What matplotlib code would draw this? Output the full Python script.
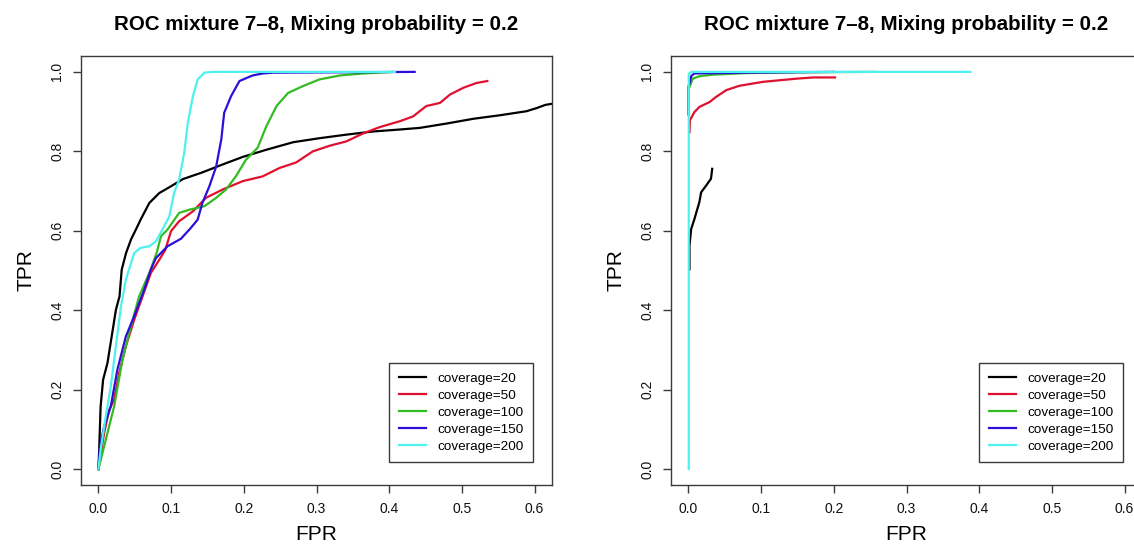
import matplotlib
matplotlib.use("Agg")
import matplotlib.pyplot as plt

plt.rcParams['font.family'] = ['Liberation Sans', 'DejaVu Sans']

title = "ROC mixture 7\u20138, Mixing probability = 0.2"
labels = ["coverage=20", "coverage=50", "coverage=100", "coverage=150", "coverage=200"]
colors = ["#000000", "#E0102F", "#33BB22", "#2A10D8", "#4EF0F0"]

x_ticks = [0.0, 0.1, 0.2, 0.3, 0.4, 0.5, 0.6]
x_ticklabels = ["0.0", "0.1", "0.2", "0.3", "0.4", "0.5", "0.6"]
y_ticks = [0.0, 0.2, 0.4, 0.6, 0.8, 1.0]
y_ticklabels = ["0.0", "0.2", "0.4", "0.6", "0.8", "1.0"]

# ---- left panel: FPR / TPR per coverage ----
fpr_l_20 = [0.0, 0.001, 0.003, 0.0064, 0.0124, 0.019, 0.024, 0.029, 0.032, 0.038, 0.045,
            0.0515, 0.058, 0.070, 0.0837, 0.0998, 0.116, 0.143, 0.171, 0.1986, 0.231,
            0.268, 0.304, 0.341, 0.378, 0.415, 0.442, 0.479, 0.516, 0.553, 0.589,
            0.603, 0.615, 0.625, 0.64]
tpr_l_20 = [0.0, 0.049, 0.158, 0.225, 0.267, 0.343, 0.401, 0.435, 0.502, 0.544, 0.579,
            0.603, 0.628, 0.670, 0.695, 0.712, 0.730, 0.747, 0.767, 0.786, 0.804,
            0.823, 0.833, 0.842, 0.850, 0.855, 0.859, 0.870, 0.882, 0.891, 0.901,
            0.909, 0.917, 0.920, 0.925]

fpr_l_50 = [0.0, 0.0078, 0.0147, 0.0216, 0.0285, 0.0377, 0.0492, 0.0607, 0.0722, 0.0837,
            0.092, 0.0998, 0.111, 0.130, 0.148, 0.171, 0.1986, 0.226, 0.249, 0.272,
            0.295, 0.318, 0.341, 0.364, 0.387, 0.415, 0.433, 0.451, 0.470, 0.4837,
            0.502, 0.520, 0.535]
tpr_l_50 = [0.0, 0.091, 0.149, 0.175, 0.242, 0.309, 0.376, 0.435, 0.494, 0.527,
            0.552, 0.599, 0.624, 0.649, 0.683, 0.704, 0.725, 0.737, 0.758, 0.772,
            0.800, 0.814, 0.825, 0.845, 0.861, 0.876, 0.888, 0.914, 0.922, 0.943,
            0.960, 0.972, 0.977]

fpr_l_100 = [0.0, 0.0101, 0.0216, 0.033, 0.0446, 0.056, 0.070, 0.080, 0.086, 0.095, 0.111,
             0.125, 0.146, 0.162, 0.1756, 0.189, 0.203, 0.219, 0.231, 0.245, 0.261,
             0.281, 0.304, 0.332, 0.364, 0.4055]
tpr_l_100 = [0.0, 0.074, 0.158, 0.275, 0.359, 0.435, 0.494, 0.544, 0.586, 0.603, 0.645,
             0.653, 0.662, 0.683, 0.704, 0.737, 0.779, 0.809, 0.863, 0.914, 0.947,
             0.964, 0.981, 0.991, 0.996, 1.0]

fpr_l_150 = [0.0, 0.002, 0.0078, 0.017, 0.026, 0.0377, 0.0492, 0.063, 0.072, 0.079, 0.095,
             0.1136, 0.127, 0.1365, 0.143, 0.1526, 0.162, 0.169, 0.173, 0.1825, 0.194,
             0.212, 0.226, 0.240, 0.435]
tpr_l_150 = [0.0, 0.057, 0.107, 0.158, 0.250, 0.334, 0.385, 0.452, 0.502, 0.531, 0.561,
             0.580, 0.607, 0.628, 0.670, 0.712, 0.762, 0.830, 0.897, 0.939, 0.977,
             0.991, 0.996, 0.998, 1.0]

fpr_l_200 = [0.0, 0.003, 0.0101, 0.017, 0.024, 0.031, 0.0377, 0.0492, 0.058, 0.070, 0.079,
             0.088, 0.0975, 0.104, 0.111, 0.118, 0.123, 0.130, 0.1366, 0.1458, 0.157,
             0.408]
tpr_l_200 = [0.0, 0.049, 0.133, 0.208, 0.309, 0.410, 0.477, 0.544, 0.557, 0.561, 0.573,
             0.603, 0.636, 0.695, 0.729, 0.796, 0.872, 0.939, 0.981, 0.998, 1.0,
             1.0]

# ---- right panel ----
fpr_r_20 = [0.0014, 0.0014, 0.0037, 0.0083, 0.015, 0.0175, 0.0244, 0.031, 0.0327]
tpr_r_20 = [0.503, 0.562, 0.604, 0.630, 0.672, 0.697, 0.714, 0.731, 0.756]

fpr_r_50 = [0.0014, 0.002, 0.0083, 0.0152, 0.029, 0.038, 0.052, 0.070, 0.1026, 0.149,
            0.172, 0.2017]
tpr_r_50 = [0.848, 0.878, 0.899, 0.912, 0.924, 0.937, 0.954, 0.965, 0.975, 0.983,
            0.986, 0.986]

fpr_r_100 = [0.0014, 0.006, 0.015, 0.0336, 0.080, 0.150, 0.257]
tpr_r_100 = [0.962, 0.983, 0.989, 0.993, 0.997, 0.999, 1.0]

fpr_r_150 = [0.0, 0.0, 0.004, 0.0083, 0.080, 0.200]
tpr_r_150 = [0.893, 0.962, 0.990, 0.996, 0.998, 1.0]

fpr_r_200 = [0.0004, 0.0004, 0.004, 0.388]
tpr_r_200 = [0.0, 0.995, 1.0, 1.0]

left_series = [(fpr_l_20, tpr_l_20), (fpr_l_50, tpr_l_50), (fpr_l_100, tpr_l_100),
               (fpr_l_150, tpr_l_150), (fpr_l_200, tpr_l_200)]
right_series = [(fpr_r_20, tpr_r_20), (fpr_r_50, tpr_r_50), (fpr_r_100, tpr_r_100),
                (fpr_r_150, tpr_r_150), (fpr_r_200, tpr_r_200)]

W, H = 1134, 550
fig = plt.figure(figsize=(W / 100, H / 100), dpi=100)
ax_l = fig.add_axes([81 / W, 65 / H, 471 / W, 429 / H])
ax_r = fig.add_axes([671 / W, 65 / H, 471 / W, 429 / H])

frame_col = "#3a3a3a"

for ax, series in ((ax_l, left_series), (ax_r, right_series)):
    for (fx, ty), col, lab in zip(series, colors, labels):
        ax.plot(fx, ty, color=col, lw=1.6, label=lab, solid_joinstyle='round')
    ax.set_xlim(-0.024, 0.624)
    ax.set_ylim(-0.04, 1.04)
    ax.set_xticks(x_ticks)
    ax.set_xticklabels(x_ticklabels)
    ax.set_yticks(y_ticks)
    ax.set_yticklabels(y_ticklabels, rotation=90, va='center')
    ax.tick_params(axis='both', length=6, width=1, color=frame_col,
                   labelsize=10, pad=6, labelcolor='#111111')
    for sp in ax.spines.values():
        sp.set_color(frame_col)
        sp.set_linewidth(1.0)
    ax.set_title(title, fontsize=14.8, fontweight='bold', pad=19)
    ax.set_xlabel("FPR", fontsize=15, labelpad=7)
    ax.set_ylabel("TPR", fontsize=15, labelpad=11)
    leg = ax.legend(loc='lower right', bbox_to_anchor=(0.959, 0.0536), fontsize=9.7,
                    frameon=True, fancybox=False, shadow=False, handlelength=2.0,
                    handletextpad=0.85, labelspacing=0.33, borderpad=0.7,
                    borderaxespad=0.0)
    fr = leg.get_frame()
    fr.set_edgecolor(frame_col)
    fr.set_linewidth(1.0)
    fr.set_alpha(1.0)

fig.savefig("out.png", dpi=100)
